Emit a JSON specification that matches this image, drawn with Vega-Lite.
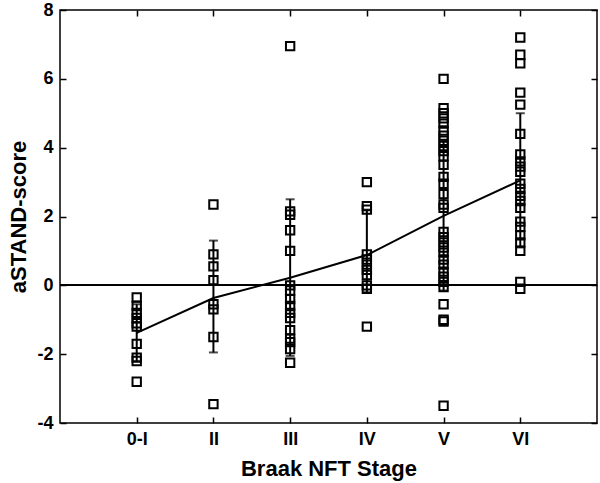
{
  "$schema": "https://vega.github.io/schema/vega-lite/v6.json",
  "width": 537,
  "height": 413,
  "autosize": {"type": "none"},
  "padding": {"left": 60, "top": 10, "right": 3, "bottom": 60},
  "background": "white",
  "config": {
    "view": {"stroke": "black", "strokeWidth": 1.5},
    "font": "Liberation Sans",
    "axis": {
      "grid": false,
      "domain": false,
      "tickColor": "black",
      "tickWidth": 1.5,
      "tickSize": -6,
      "labelFont": "Liberation Sans",
      "labelFontWeight": "bold",
      "labelFontSize": 18,
      "labelColor": "black",
      "titleFont": "Liberation Sans",
      "titleFontWeight": "bold",
      "titleFontSize": 22,
      "titleColor": "black"
    }
  },
  "datasets": {
    "pts": [
      {"stage": 1, "score": -0.35}, {"stage": 1, "score": -0.6}, {"stage": 1, "score": -0.8}, {"stage": 1, "score": -0.95},
      {"stage": 1, "score": -1.1}, {"stage": 1, "score": -1.2}, {"stage": 1, "score": -1.7}, {"stage": 1, "score": -2.1},
      {"stage": 1, "score": -2.2}, {"stage": 1, "score": -2.8},
      {"stage": 2, "score": 2.35}, {"stage": 2, "score": 0.9}, {"stage": 2, "score": 0.55}, {"stage": 2, "score": 0.15},
      {"stage": 2, "score": -0.55}, {"stage": 2, "score": -0.7}, {"stage": 2, "score": -1.5}, {"stage": 2, "score": -3.45},
      {"stage": 3, "score": 6.95}, {"stage": 3, "score": 2.15}, {"stage": 3, "score": 2.05}, {"stage": 3, "score": 1.6},
      {"stage": 3, "score": 1.0}, {"stage": 3, "score": 0.0}, {"stage": 3, "score": -0.15}, {"stage": 3, "score": -0.4},
      {"stage": 3, "score": -0.6}, {"stage": 3, "score": -0.8}, {"stage": 3, "score": -0.95}, {"stage": 3, "score": -1.3},
      {"stage": 3, "score": -1.55}, {"stage": 3, "score": -1.65}, {"stage": 3, "score": -1.85}, {"stage": 3, "score": -2.25},
      {"stage": 4, "score": 3.0}, {"stage": 4, "score": 2.3}, {"stage": 4, "score": 2.2}, {"stage": 4, "score": 0.9},
      {"stage": 4, "score": 0.75}, {"stage": 4, "score": 0.6}, {"stage": 4, "score": 0.45}, {"stage": 4, "score": 0.3},
      {"stage": 4, "score": 0.0}, {"stage": 4, "score": -0.1}, {"stage": 4, "score": -1.2},
      {"stage": 5, "score": 6.0}, {"stage": 5, "score": 5.15}, {"stage": 5, "score": 5.0}, {"stage": 5, "score": 4.85},
      {"stage": 5, "score": 4.7}, {"stage": 5, "score": 4.5}, {"stage": 5, "score": 4.35}, {"stage": 5, "score": 4.2},
      {"stage": 5, "score": 4.05}, {"stage": 5, "score": 3.9}, {"stage": 5, "score": 3.75}, {"stage": 5, "score": 3.5},
      {"stage": 5, "score": 3.15}, {"stage": 5, "score": 2.95}, {"stage": 5, "score": 2.65}, {"stage": 5, "score": 2.35},
      {"stage": 5, "score": 2.25}, {"stage": 5, "score": 1.55}, {"stage": 5, "score": 1.4}, {"stage": 5, "score": 1.25},
      {"stage": 5, "score": 1.1}, {"stage": 5, "score": 0.95}, {"stage": 5, "score": 0.75}, {"stage": 5, "score": 0.6},
      {"stage": 5, "score": 0.4}, {"stage": 5, "score": 0.25}, {"stage": 5, "score": 0.1}, {"stage": 5, "score": -0.05},
      {"stage": 5, "score": -0.55}, {"stage": 5, "score": -1.0}, {"stage": 5, "score": -1.05}, {"stage": 5, "score": -3.5},
      {"stage": 6, "score": 7.2}, {"stage": 6, "score": 6.7}, {"stage": 6, "score": 6.45}, {"stage": 6, "score": 5.6},
      {"stage": 6, "score": 5.25}, {"stage": 6, "score": 4.4}, {"stage": 6, "score": 3.8}, {"stage": 6, "score": 3.6},
      {"stage": 6, "score": 3.45}, {"stage": 6, "score": 3.3}, {"stage": 6, "score": 2.95}, {"stage": 6, "score": 2.8},
      {"stage": 6, "score": 2.6}, {"stage": 6, "score": 2.45}, {"stage": 6, "score": 2.25}, {"stage": 6, "score": 1.85},
      {"stage": 6, "score": 1.7}, {"stage": 6, "score": 1.45}, {"stage": 6, "score": 1.25}, {"stage": 6, "score": 1.0},
      {"stage": 6, "score": 0.1}, {"stage": 6, "score": -0.1}
    ],
    "means": [
      {"stage": 1, "mean": -1.38, "lo": -2.2, "hi": -0.55},
      {"stage": 2, "mean": -0.37, "lo": -1.95, "hi": 1.3},
      {"stage": 3, "mean": 0.22, "lo": -2.05, "hi": 2.5},
      {"stage": 4, "mean": 0.88, "lo": -0.2, "hi": 2.2},
      {"stage": 5, "mean": 2.02, "lo": -0.15, "hi": 4.2},
      {"stage": 6, "mean": 3.05, "lo": 1.1, "hi": 5.0}
    ]
  },
  "resolve": {"axis": {"x": "independent", "y": "independent"}},
  "layer": [
    {
      "data": {"name": "means"},
      "mark": {"type": "rule", "color": "black", "strokeWidth": 1.5},
      "encoding": {
        "y": {
          "datum": 0, "type": "quantitative",
          "scale": {"domain": [-4, 8], "nice": false, "zero": false},
          "axis": {"orient": "right", "labels": false, "title": null, "values": [-4, -2, 0, 2, 4, 6, 8]}
        }
      }
    },
    {
      "data": {"name": "means"},
      "mark": {"type": "rule", "color": "black", "strokeWidth": 2},
      "encoding": {
        "x": {
          "field": "stage", "type": "quantitative",
          "scale": {"domain": [0, 7], "nice": false, "zero": false},
          "axis": {"orient": "top", "labels": false, "title": null, "values": [1, 2, 3, 4, 5, 6]}
        },
        "y": {"field": "lo", "type": "quantitative", "axis": null},
        "y2": {"field": "hi"}
      }
    },
    {
      "data": {"name": "means"},
      "mark": {"type": "tick", "orient": "horizontal", "color": "black", "size": 9, "thickness": 2},
      "encoding": {
        "x": {"field": "stage", "type": "quantitative", "axis": null},
        "y": {"field": "lo", "type": "quantitative", "axis": null}
      }
    },
    {
      "data": {"name": "means"},
      "mark": {"type": "tick", "orient": "horizontal", "color": "black", "size": 9, "thickness": 2},
      "encoding": {
        "x": {"field": "stage", "type": "quantitative", "axis": null},
        "y": {"field": "hi", "type": "quantitative", "axis": null}
      }
    },
    {
      "data": {"name": "means"},
      "mark": {"type": "line", "color": "black", "strokeWidth": 2},
      "encoding": {
        "x": {"field": "stage", "type": "quantitative", "axis": null},
        "y": {"field": "mean", "type": "quantitative", "axis": null}
      }
    },
    {
      "data": {"name": "pts"},
      "mark": {"type": "point", "shape": "square", "filled": false, "color": "black", "size": 70, "strokeWidth": 2, "opacity": 1},
      "encoding": {
        "x": {
          "field": "stage", "type": "quantitative",
          "axis": {
            "orient": "bottom", "values": [1, 2, 3, 4, 5, 6],
            "labelExpr": "['','0-I','II','III','IV','V','VI'][datum.value]",
            "labelPadding": 13, "title": "Braak NFT Stage", "titlePadding": 10
          }
        },
        "y": {
          "field": "score", "type": "quantitative",
          "axis": {
            "orient": "left", "values": [-4, -2, 0, 2, 4, 6, 8],
            "labelExpr": "datum.value < 0 ? '-' + abs(datum.value) : '' + datum.value",
            "labelPadding": 13, "title": "aSTAND-score", "titlePadding": 6
          }
        }
      }
    }
  ]
}
